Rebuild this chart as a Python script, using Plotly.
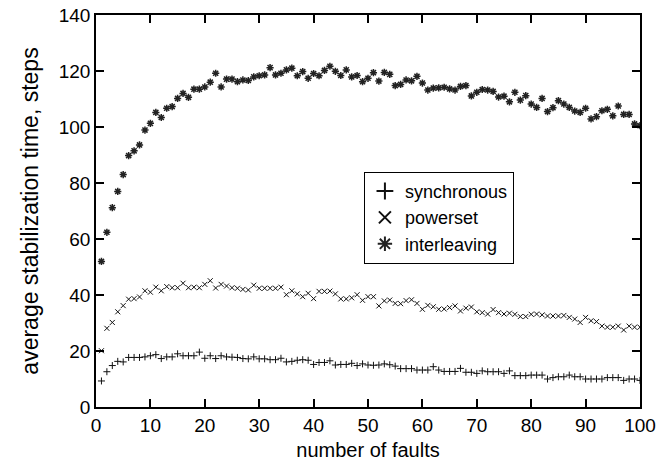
import plotly.graph_objects as go

faults = list(range(1, 101))

synchronous = [
    9.3, 12.6, 14.8, 16.3, 16.1, 17.7, 17.7, 17.7, 17.9, 18.3,
    18.7, 17.3, 17.9, 17.9, 19.0, 18.3, 18.3, 18.3, 19.6, 17.4,
    18.3, 17.3, 18.3, 17.9, 17.8, 17.7, 17.3, 17.2, 17.9, 17.2,
    17.2, 16.9, 16.9, 17.4, 16.1, 16.3, 16.7, 16.9, 16.7, 15.2,
    15.9, 15.9, 16.5, 15.0, 15.2, 15.2, 15.6, 14.8, 15.4, 15.0,
    14.9, 15.0, 15.4, 15.1, 14.6, 13.7, 13.7, 13.7, 13.2, 13.2,
    13.2, 14.4, 13.2, 12.7, 12.7, 12.7, 13.8, 12.4, 12.4, 12.0,
    12.9, 12.6, 12.6, 12.6, 12.0, 12.9, 11.2, 11.2, 11.2, 11.4,
    11.4, 11.4, 10.0, 10.5, 10.8, 10.8, 11.4, 10.8, 10.8, 10.0,
    10.0, 10.0, 10.0, 10.5, 10.5, 10.5, 9.5, 10.0, 10.0, 9.5,
]

powerset = [
    20.1, 28.1, 30.2, 34.0, 36.2, 38.5, 38.7, 39.3, 41.5, 41.0,
    42.8, 41.5, 43.0, 42.6, 42.6, 44.2, 42.6, 42.8, 42.6, 43.8,
    45.1, 42.5, 43.8, 43.2, 42.6, 42.4, 42.0, 41.8, 43.5, 42.4,
    42.4, 42.4, 42.4, 42.8, 40.1, 41.5, 40.4, 39.4, 40.6, 38.7,
    41.3, 41.3, 41.4, 40.4, 38.6, 38.6, 39.0, 40.1, 38.1, 39.4,
    39.4, 36.1, 37.9, 38.2, 37.0, 36.9, 38.0, 38.3, 37.0, 34.9,
    36.3, 35.8, 34.9, 35.0, 35.5, 36.1, 34.3, 35.3, 35.7, 34.0,
    33.7, 33.2, 34.8, 33.7, 33.2, 33.5, 33.1, 32.3, 32.3, 33.1,
    33.2, 32.9, 32.5, 32.5, 32.5, 32.7, 32.0, 31.4, 30.2, 32.0,
    30.8, 30.5, 28.9, 28.5, 28.5, 28.9, 27.5, 28.9, 28.5, 28.5,
]

interleaving = [
    52.0, 62.4, 71.2, 77.0, 83.0, 89.8, 91.5, 93.6, 98.9, 101.3,
    105.2, 103.4, 106.7, 107.3, 110.2, 112.0, 110.6, 113.5, 113.5, 114.3,
    116.0, 119.2, 114.3, 117.1, 117.1, 116.2, 116.8, 116.6, 117.9, 118.3,
    118.6, 121.2, 118.6, 119.2, 120.4, 121.0, 118.3, 119.8, 117.4, 119.1,
    118.3, 120.2, 121.7, 119.9, 118.4, 120.4, 117.9, 118.4, 116.2, 117.4,
    119.4, 116.4, 119.5, 118.8, 114.8, 115.2, 116.8, 116.5, 118.1, 115.7,
    113.2, 113.9, 114.0, 114.2, 113.6, 113.2, 114.5, 114.8, 111.1, 112.4,
    113.4, 113.2, 112.7, 110.7, 111.0, 109.0, 112.4, 109.6, 111.2, 108.2,
    107.0, 110.2, 105.5, 106.9, 109.4, 108.2, 107.0, 105.7, 105.2, 106.7,
    102.9, 103.7, 105.8, 106.3, 104.0, 107.5, 104.5, 104.5, 101.1, 100.5,
]

x_ticks = [0, 10, 20, 30, 40, 50, 60, 70, 80, 90, 100]
y_ticks = [0, 20, 40, 60, 80, 100, 120, 140]

FONT = "Liberation Sans, Arial, Helvetica, sans-serif"

fig = go.Figure()
fig.add_trace(go.Scatter(
    x=faults, y=synchronous, mode="markers", name="synchronous",
    marker=dict(symbol="cross-thin", size=5, color="black",
                line=dict(width=1, color="#111111")),
))
fig.add_trace(go.Scatter(
    x=faults, y=powerset, mode="markers", name="powerset",
    marker=dict(symbol="x-thin", size=5, color="black",
                line=dict(width=1, color="#111111")),
))
fig.add_trace(go.Scatter(
    x=faults, y=interleaving, mode="markers", name="interleaving",
    marker=dict(symbol="asterisk", size=6, color="black",
                line=dict(width=1.5, color="#222222")),
))

axis_common = dict(
    showgrid=False, zeroline=False, showline=True, linecolor="black",
    linewidth=1.5, mirror="ticks", ticks="inside", ticklen=8,
    tickwidth=1.5, tickcolor="black",
    tickfont=dict(family=FONT, size=19, color="black"),
)

fig.update_layout(
    width=661, height=469,
    margin=dict(l=96, r=21, t=15, b=62),
    paper_bgcolor="white", plot_bgcolor="white",
    font=dict(family=FONT, size=19, color="black"),
    xaxis=dict(range=[0, 100], tickvals=x_ticks, ticktext=[str(v) for v in x_ticks],
               title=dict(text="number of faults", font=dict(family=FONT, size=20), standoff=8),
               automargin=False, **axis_common),
    yaxis=dict(range=[0, 140], tickvals=y_ticks, ticktext=[str(v) for v in y_ticks],
               title=dict(text="average stabilization time, steps", font=dict(family=FONT, size=23), standoff=14),
               automargin=False, **axis_common),
    legend=dict(
        x=0.4925, y=0.60, xanchor="left", yanchor="top",
        bgcolor="white", bordercolor="black", borderwidth=1,
        font=dict(family=FONT, size=18, color="black"),
        itemsizing="constant", tracegroupgap=0,
    ),
    showlegend=True,
)

fig.write_html(
    "out.html",
    config={"displayModeBar": False},
    post_script="document.body.style.margin='0';document.body.style.overflow='hidden';",
)
